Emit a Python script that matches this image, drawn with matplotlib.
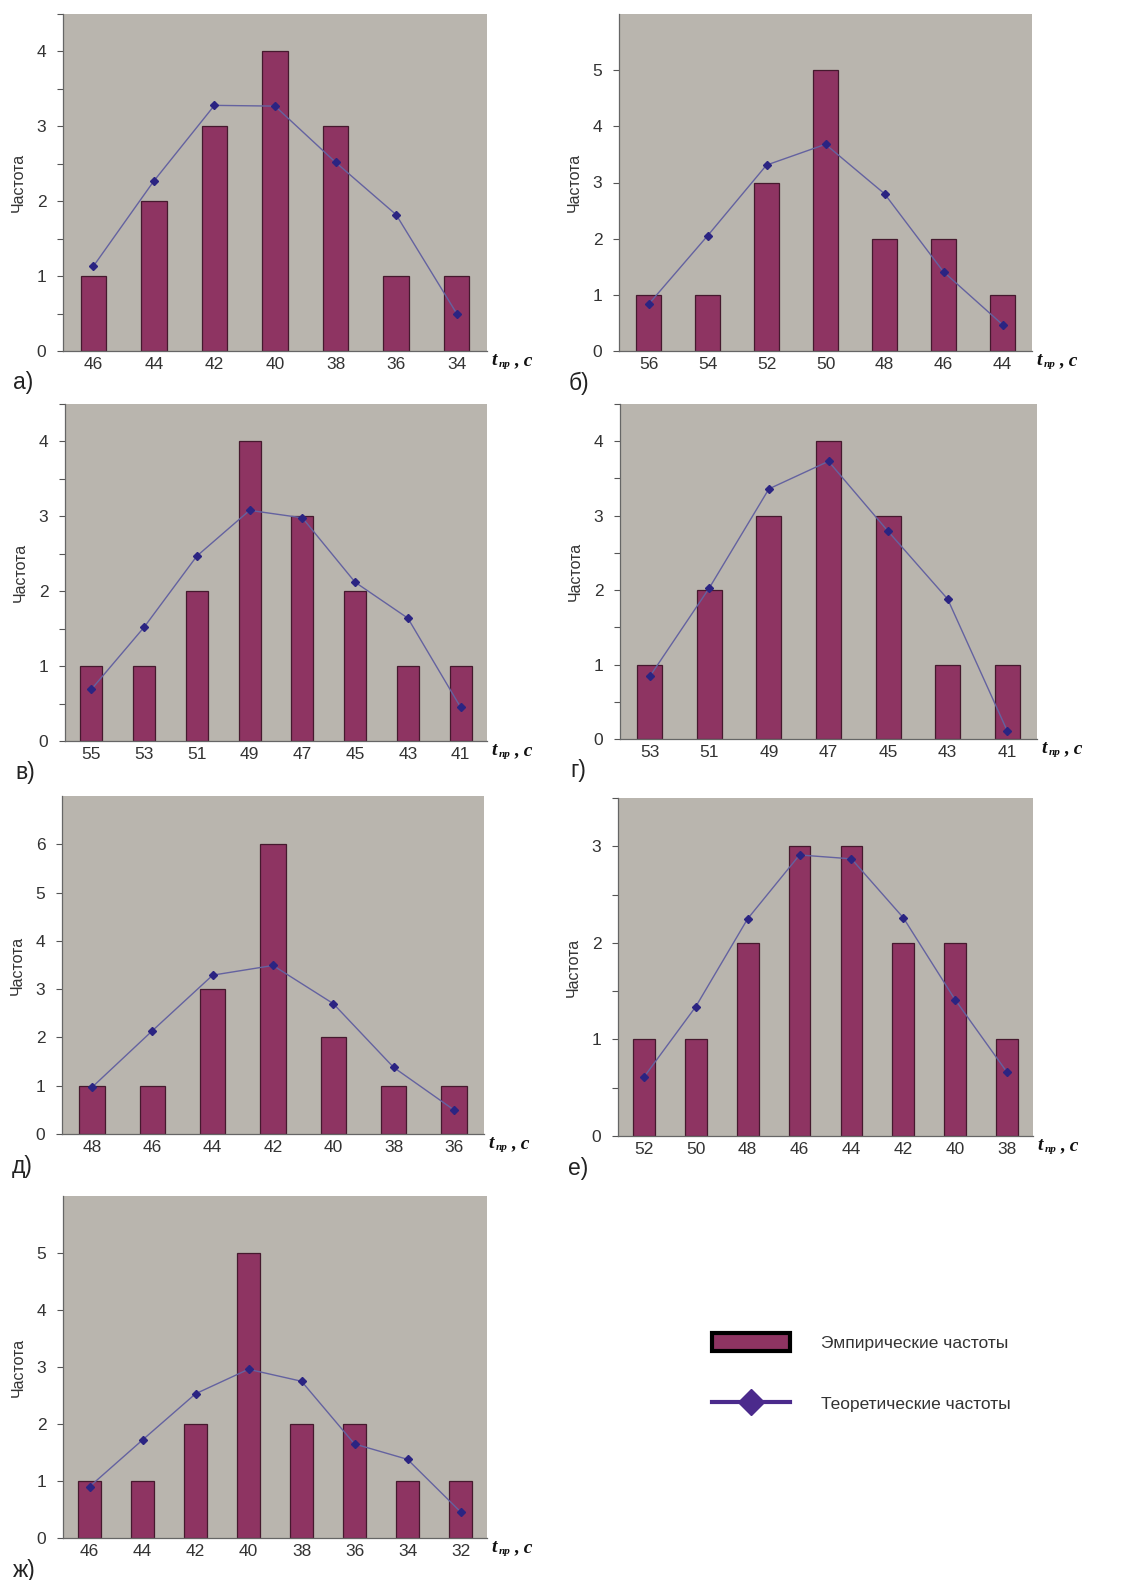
"""Empirical vs theoretical frequency histograms for seven sample series (а-ж)."""

import matplotlib

matplotlib.use("Agg")
import matplotlib.pyplot as plt
import numpy as np
from matplotlib.lines import Line2D
from matplotlib.patches import Patch

plt.rcParams["font.family"] = ["Liberation Sans", "DejaVu Sans"]

# ---- data -----------------------------------------------------------------
t_a = [46, 44, 42, 40, 38, 36, 34]
emp_a = [1, 2, 3, 4, 3, 1, 1]
theor_a = [1.13, 2.27, 3.28, 3.27, 2.52, 1.82, 0.50]

t_b = [56, 54, 52, 50, 48, 46, 44]
emp_b = [1, 1, 3, 5, 2, 2, 1]
theor_b = [0.83, 2.05, 3.31, 3.68, 2.80, 1.41, 0.47]

t_v = [55, 53, 51, 49, 47, 45, 43, 41]
emp_v = [1, 1, 2, 4, 3, 2, 1, 1]
theor_v = [0.69, 1.52, 2.47, 3.08, 2.98, 2.12, 1.64, 0.45]

t_g = [53, 51, 49, 47, 45, 43, 41]
emp_g = [1, 2, 3, 4, 3, 1, 1]
theor_g = [0.84, 2.03, 3.36, 3.73, 2.79, 1.88, 0.11]

t_d = [48, 46, 44, 42, 40, 38, 36]
emp_d = [1, 1, 3, 6, 2, 1, 1]
theor_d = [0.97, 2.14, 3.29, 3.49, 2.70, 1.38, 0.50]

t_e = [52, 50, 48, 46, 44, 42, 40, 38]
emp_e = [1, 1, 2, 3, 3, 2, 2, 1]
theor_e = [0.61, 1.34, 2.25, 2.91, 2.87, 2.26, 1.41, 0.66]

t_zh = [46, 44, 42, 40, 38, 36, 34, 32]
emp_zh = [1, 1, 2, 5, 2, 2, 1, 1]
theor_zh = [0.90, 1.72, 2.53, 2.96, 2.75, 1.65, 1.38, 0.46]

panel_letters = ["а)", "б)", "в)", "г)", "д)", "е)", "ж)"]

# ---- style ----------------------------------------------------------------
W, H = 1131, 1580
BG = "#b9b5ae"
BAR = "#8e3462"
BAR_EDGE = "#45192e"
LINE = "#6462a0"
MARK = "#2b2482"
TXT = "#333333"

# plot-area boxes in pixels: left, top, right, bottom
boxes = [
    (63, 14, 487, 351),
    (619, 14, 1032, 351),
    (65, 404, 487, 741),
    (620, 404, 1037, 739),
    (62, 796, 484, 1134),
    (618, 798, 1033, 1136),
    (63, 1196, 487, 1538),
]
ymaxes = [4.5, 6, 4.5, 4.5, 7, 3.5, 6]

series = [
    (t_a, emp_a, theor_a),
    (t_b, emp_b, theor_b),
    (t_v, emp_v, theor_v),
    (t_g, emp_g, theor_g),
    (t_d, emp_d, theor_d),
    (t_e, emp_e, theor_e),
    (t_zh, emp_zh, theor_zh),
]

fig = plt.figure(figsize=(W / 100, H / 100), dpi=100)

for (t, emp, theor), (l, top, r, b), ymax, letter in zip(
    series, boxes, ymaxes, panel_letters
):
    ax = fig.add_axes([l / W, 1 - b / H, (r - l) / W, (b - top) / H])
    ax.set_facecolor(BG)
    x = np.arange(len(t))
    ax.bar(x, emp, width=0.42, color=BAR, edgecolor=BAR_EDGE, linewidth=0.9,
           zorder=2)
    ax.plot(x, theor, color=LINE, linewidth=1.0, marker="D", markersize=3.8,
            markerfacecolor=MARK, markeredgecolor=MARK, zorder=3)
    ax.set_xlim(-0.5, len(t) - 0.5)
    ax.set_ylim(0, ymax)

    ax.set_xticks(x)
    ax.set_xticklabels([str(v) for v in t])
    ax.set_yticks(np.arange(0, np.ceil(ymax)))
    if ymax % 1:
        ax.set_yticks(np.arange(0, ymax + 0.01, 0.5), minor=True)
    ax.tick_params(axis="x", length=0, pad=4, labelsize=12.5, labelcolor=TXT)
    ax.tick_params(axis="y", which="both", length=4, width=0.8, color="#555555",
                   pad=8, labelsize=12.5, labelcolor=TXT)

    for side in ("top", "right"):
        ax.spines[side].set_visible(False)
    for side in ("left", "bottom"):
        ax.spines[side].set_color("#666666")
        ax.spines[side].set_linewidth(0.9)

    ax.set_ylabel("Частота", fontsize=11.5, color=TXT, labelpad=8)

    # axis title "t_пр , c" at the end of the x axis
    serif = dict(family="Liberation Serif", weight="bold", style="italic",
                 color="#111111", xycoords="axes fraction",
                 textcoords="offset points", va="center")
    ax.annotate("t", xy=(1, 0), xytext=(3.5, -7), fontsize=14, **serif)
    ax.annotate("пр", xy=(1, 0), xytext=(8.5, -10), fontsize=8, **serif)
    ax.annotate(", c", xy=(1, 0), xytext=(19.5, -7), fontsize=14, **serif)

    # panel letter under the y axis
    fig.text((l - 50) / W, 1 - (b + 32) / H, letter, fontsize=16.5,
             color="#222222", va="center", ha="left")

handles = [
    Patch(facecolor=BAR, edgecolor="black", linewidth=3),
    Line2D([], [], color="#4b2a8c", linewidth=3, marker="D", markersize=13,
           markerfacecolor="#4b2a8c", markeredgecolor="#4b2a8c"),
]
fig.legend(
    handles,
    ["Эмпирические частоты", "Теоретические частоты"],
    loc="upper left",
    bbox_to_anchor=(712 / W, 1 - 1333 / H),
    frameon=False,
    fontsize=12.5,
    handlelength=4.5,
    handleheight=1.2,
    handletextpad=1.8,
    labelspacing=2.5,
    borderpad=0,
    borderaxespad=0,
    labelcolor=TXT,
)

fig.savefig("out.png", dpi=100, facecolor="white")
